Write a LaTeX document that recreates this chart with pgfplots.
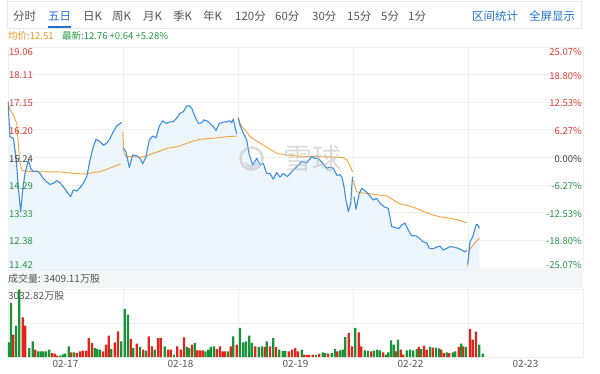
\documentclass[border=0pt]{standalone}
\usepackage{pgfplots}
\pgfplotsset{compat=1.18}
\usepackage{fontspec}
\setmainfont{Noto Sans CJK SC}
\definecolor{pblue}{RGB}{64,142,228}
\definecolor{porange}{RGB}{242,163,60}
\definecolor{pfill}{RGB}{237,245,253}
\definecolor{lred}{RGB}{224,60,50}
\definecolor{lgreen}{RGB}{40,150,70}
\definecolor{ldark}{RGB}{60,60,60}
\definecolor{vred}{RGB}{226,36,26}
\definecolor{vgreen}{RGB}{24,148,56}
\definecolor{gridc}{RGB}{238,239,241}
\definecolor{tgray}{RGB}{85,85,85}
\definecolor{tblue}{RGB}{35,115,205}
\definecolor{bandc}{RGB}{245,246,248}
\definecolor{aorange}{RGB}{240,150,30}
\definecolor{agreen}{RGB}{35,150,65}
\newcommand\TL[3]{\smash{\raisebox{#1}{\textcolor{#2}{#3}}}}
\begin{document}
\begin{tikzpicture}[x=1pt,y=1pt]
\useasboundingbox (0,0) rectangle (600,373);
% toolbar
\draw[gridc!80!gray!60, line width=0.6pt] (7.5,344.5) rectangle (581.5,371.5);
\begin{scope}[every node/.style={anchor=west, inner sep=0pt, font=\fontsize{11.5}{13}\selectfont, text=tgray}]
\node at (13,357) {分时};
\node[text=tblue] at (48,357) {五日};
\node at (83,357) {日K};
\node at (112,357) {周K};
\node at (143,357) {月K};
\node at (173,357) {季K};
\node at (203,357) {年K};
\node at (235,357) {120分};
\node at (275,357) {60分};
\node at (312,357) {30分};
\node at (347,357) {15分};
\node at (381,357) {5分};
\node at (408,357) {1分};
\node[text=tblue] at (472,357) {区间统计};
\node[text=tblue] at (529,357) {全屏显示};
\end{scope}
\draw[tblue, line width=1.6pt] (48,346) -- (71,346);
\node[anchor=west, inner sep=0pt, font=\fontsize{9.5}{11}\selectfont, text=aorange] at (8,337) {均价:12.51};
\node[anchor=west, inner sep=0pt, font=\fontsize{9.5}{11}\selectfont, text=agreen] at (62,337) {最新:12.76 +0.64 +5.28\%};
% volume header band
\fill[bandc] (8,85) rectangle (583,103);
\node[anchor=west, inner sep=0pt, font=\fontsize{10}{12}\selectfont, text=tgray] at (8,94) {成交量: 3409.11万股};
\node[anchor=west, inner sep=0pt, font=\fontsize{10}{12}\selectfont, text=tgray] at (8,77) {3032.82万股};

% price axis
\begin{axis}[
  at={(8pt,103pt)}, anchor=south west, scale only axis, width=575pt, height=223pt,
  xmin=8, xmax=583, ymin=11.351, ymax=19.06,
  axis line style={gridc},
  xtick={123,238,353,468}, xticklabels={}, xmajorgrids,
  ytick={11.42,12.38,13.33,14.29,15.24,16.20,17.15,18.11,19.06}, yticklabels={},
  ymajorgrids, grid style={gridc, line width=0.6pt},
  major tick length=0pt,
]
\addplot[fill=pfill, draw=none] coordinates {
(8,17.17) (10,15.96) (13.3,15.90) (16,15.27) (18.3,14.23) (20.7,13.37) (22.7,14.12) (25,14.69) (28.3,15.15) (30.7,14.87) (33.3,14.75) (36.7,14.78) (40,14.69) (43.3,14.52) (46.7,14.40) (50,14.31) (53.3,14.35) (56.7,14.44) (60,14.37) (63.3,14.23) (66.7,14.06) (70.7,13.89) (73.3,14.12) (76.7,14.08) (80,14.20) (83.3,14.35) (86.7,14.58) (90,15.15) (93.3,15.61) (96,15.87) (100,15.79) (103.3,15.67) (106.7,15.73) (110,15.90) (113.3,16.13) (116.7,16.33) (121.7,16.46)
(123.3,15.56) (126,15.44) (129.3,14.90) (132.7,15.33) (136.7,15.30) (140,15.21) (142.7,15.02) (146,15.27) (149.3,15.85) (152.7,15.98) (156,15.92) (159.3,16.33) (162.7,16.51) (166,16.42) (170,16.47) (173.3,16.48) (176.7,16.60) (180,16.77) (183.3,16.82) (186.7,17.02) (189.3,17.03) (191.7,16.94) (195,16.65) (198.3,16.42) (201.7,16.44) (204,16.54) (206.7,16.51) (210,16.42) (213.3,16.31) (216,16.17) (219.3,16.42) (223.3,16.46) (226.7,16.48) (230,16.51) (231.7,16.44) (233.3,16.57) (236.7,16.05)
(238.3,16.60) (240,16.36) (243.3,16.08) (246.7,15.85) (249.3,15.33) (252.7,14.98) (256.7,15.21) (260,14.98) (263.3,15.04) (266.7,14.69) (270,14.69) (273.3,14.49) (276.7,14.72) (280,14.56) (283.3,14.69) (287.3,14.58) (291.7,14.75) (296.7,14.92) (301.7,15.10) (306.7,15.06) (311.7,15.27) (315,15.21) (318.3,15.21) (323.3,15.02) (326.7,14.87) (330,14.90) (333.3,14.87) (337,14.62) (340,14.65) (342,14.55) (344,14.23) (346,13.77) (348.3,13.37) (350.7,13.66) (352.5,14.58)
(354,13.89) (356,13.45) (359.3,14.00) (361.7,14.18) (366,14.06) (369.3,13.94) (373.3,13.77) (376.7,13.83) (380,13.66) (384,13.54) (388.3,13.48) (391.7,12.85) (395.7,12.81) (399,12.79) (401.7,12.91) (405,12.97) (408.3,12.73) (411.7,12.54) (416,12.53) (419.3,12.45) (422.7,12.33) (426.7,12.29) (429.3,12.10) (433.3,12.09) (436.7,12.14) (440,12.18) (443.3,12.04) (446.7,12.10) (450,12.16) (454,12.14) (458.3,12.10) (461.7,12.04) (465,11.98) (466.7,12.04)
(467.8,11.56) (470,12.33) (472.7,12.50) (476,12.91) (477.3,12.93) (479.5,12.79)
} \closedcycle;
% average line
\addplot[porange, line width=0.9pt, line join=round] coordinates {(8,17.17) (10,16.88) (13.3,16.71) (16.7,16.42) (18.3,15.73) (20,15.04) (21.7,14.81) (25,14.77) (36.7,14.75) (60,14.74) (73.3,14.69) (86.7,14.67) (93.3,14.72) (100,14.75) (106.7,14.83) (113.3,14.92) (120.7,15.02)};
\addplot[porange, line width=0.9pt, line join=round] coordinates {(122.7,16.13) (124,15.39) (126,15.27) (133.3,15.27) (140,15.25) (146.7,15.29) (153.3,15.39) (160,15.46) (166.7,15.56) (173.3,15.59) (180,15.64) (186.7,15.73) (193.3,15.81) (200,15.87) (206.7,15.89) (216.7,15.92) (226.7,15.96) (236.7,15.98)};
\addplot[porange, line width=0.9pt, line join=round] coordinates {(238.3,16.63) (240,16.42) (243.3,16.25) (246.7,16.13) (250,15.96) (256.7,15.81) (263.3,15.67) (270,15.52) (276.7,15.39) (283.3,15.34) (296.7,15.29) (313.3,15.27) (330,15.26) (343,15.24) (347,15.15) (350,14.96) (352.5,14.75)};
\addplot[porange, line width=0.9pt, line join=round] coordinates {(353.5,14.46) (355,14.23) (356.7,14.06) (360,14.02) (366.7,14.00) (380,13.94) (386.7,13.91) (393.3,13.77) (400,13.63) (406.7,13.59) (413.3,13.52) (420,13.43) (426.7,13.33) (433.3,13.25) (440,13.19) (450,13.14) (460,13.06) (466.7,12.99)};
\addplot[porange, line width=0.9pt, line join=round] coordinates {(467.5,11.49) (469.3,12.04) (473.3,12.22) (476.7,12.36) (479.5,12.45)};
% price line
\addplot[pblue, line width=1.1pt, line join=round] coordinates {(8,17.17) (10,15.96) (13.3,15.90) (16,15.27) (18.3,14.23) (20.7,13.37) (22.7,14.12) (25,14.69) (28.3,15.15) (30.7,14.87) (33.3,14.75) (36.7,14.78) (40,14.69) (43.3,14.52) (46.7,14.40) (50,14.31) (53.3,14.35) (56.7,14.44) (60,14.37) (63.3,14.23) (66.7,14.06) (70.7,13.89) (73.3,14.12) (76.7,14.08) (80,14.20) (83.3,14.35) (86.7,14.58) (90,15.15) (93.3,15.61) (96,15.87) (100,15.79) (103.3,15.67) (106.7,15.73) (110,15.90) (113.3,16.13) (116.7,16.33) (121.7,16.46)};
\addplot[pblue, line width=1.1pt, line join=round] coordinates {(123.3,15.56) (126,15.44) (129.3,14.90) (132.7,15.33) (136.7,15.30) (140,15.21) (142.7,15.02) (146,15.27) (149.3,15.85) (152.7,15.98) (156,15.92) (159.3,16.33) (162.7,16.51) (166,16.42) (170,16.47) (173.3,16.48) (176.7,16.60) (180,16.77) (183.3,16.82) (186.7,17.02) (189.3,17.03) (191.7,16.94) (195,16.65) (198.3,16.42) (201.7,16.44) (204,16.54) (206.7,16.51) (210,16.42) (213.3,16.31) (216,16.17) (219.3,16.42) (223.3,16.46) (226.7,16.48) (230,16.51) (231.7,16.44) (233.3,16.57) (236.7,16.05)};
\addplot[pblue, line width=1.1pt, line join=round] coordinates {(238.3,16.60) (240,16.36) (243.3,16.08) (246.7,15.85) (249.3,15.33) (252.7,14.98) (256.7,15.21) (260,14.98) (263.3,15.04) (266.7,14.69) (270,14.69) (273.3,14.49) (276.7,14.72) (280,14.56) (283.3,14.69) (287.3,14.58) (291.7,14.75) (296.7,14.92) (301.7,15.10) (306.7,15.06) (311.7,15.27) (315,15.21) (318.3,15.21) (323.3,15.02) (326.7,14.87) (330,14.90) (333.3,14.87) (337,14.62) (340,14.65) (342,14.55) (344,14.23) (346,13.77) (348.3,13.37) (350.7,13.66) (352.5,14.58)};
\addplot[pblue, line width=1.1pt, line join=round] coordinates {(354,13.89) (356,13.45) (359.3,14.00) (361.7,14.18) (366,14.06) (369.3,13.94) (373.3,13.77) (376.7,13.83) (380,13.66) (384,13.54) (388.3,13.48) (391.7,12.85) (395.7,12.81) (399,12.79) (401.7,12.91) (405,12.97) (408.3,12.73) (411.7,12.54) (416,12.53) (419.3,12.45) (422.7,12.33) (426.7,12.29) (429.3,12.10) (433.3,12.09) (436.7,12.14) (440,12.18) (443.3,12.04) (446.7,12.10) (450,12.16) (454,12.14) (458.3,12.10) (461.7,12.04) (465,11.98) (466.7,12.04)};
\addplot[pblue, line width=1.1pt, line join=round] coordinates {(467.8,11.56) (470,12.33) (472.7,12.50) (476,12.91) (477.3,12.93) (479.5,12.79)};
\end{axis}

% left price labels (overlay, drawn above the fill)
\begin{axis}[
  at={(8pt,103pt)}, anchor=south west, scale only axis, width=575pt, height=223pt,
  xmin=8, xmax=583, ymin=11.351, ymax=19.06,
  axis line style={draw=none}, xtick=\empty,
  ytick={11.42,12.38,13.33,14.29,15.24,16.20,17.15,18.11,19.06},
  yticklabels={\TL{-0.5pt}{lgreen}{11.42},\TL{-4.5pt}{lgreen}{12.38},\TL{-4.5pt}{lgreen}{13.33},\TL{-4.5pt}{lgreen}{14.29},\TL{-4.5pt}{ldark}{15.24},\TL{-4.5pt}{lred}{16.20},\TL{-4.5pt}{lred}{17.15},\TL{-4.5pt}{lred}{18.11},\TL{-8.5pt}{lred}{19.06}},
  major tick length=0pt,
  yticklabel style={anchor=west, inner sep=0pt, xshift=1pt, font=\fontsize{9.5}{11}\selectfont},
]
\end{axis}

% percent axis (right labels)
\begin{axis}[
  at={(8pt,103pt)}, anchor=south west, scale only axis, width=575pt, height=223pt,
  xmin=8, xmax=583, ymin=-25.52, ymax=25.07,
  axis line style={draw=none}, xtick=\empty,
  ytick={-25.07,-18.80,-12.53,-6.27,0,6.27,12.53,18.80,25.07},
  yticklabels={\TL{-0.5pt}{lgreen}{-25.07\%},\TL{-4.5pt}{lgreen}{-18.80\%},\TL{-4.5pt}{lgreen}{-12.53\%},\TL{-4.5pt}{lgreen}{-6.27\%},\TL{-4.5pt}{ldark}{0.00\%},\TL{-4.5pt}{lred}{6.27\%},\TL{-4.5pt}{lred}{12.53\%},\TL{-4.5pt}{lred}{18.80\%},\TL{-8.5pt}{lred}{25.07\%}},
  yticklabel pos=right, major tick length=0pt,
  yticklabel style={anchor=east, inner sep=0pt, xshift=-1pt, font=\fontsize{9.5}{11}\selectfont},
]
\end{axis}

% volume axis
\begin{axis}[
  at={(8pt,16pt)}, anchor=south west, scale only axis, width=575pt, height=68pt,
  xmin=8, xmax=583, ymin=0, ymax=3078,
  axis line style={gridc},
  xtick={65.5,180.5,295.5,410.5,525.5}, xticklabels={02-17,02-18,02-19,02-22,02-23},
  extra x ticks={123,238,353,468}, extra x tick labels={}, extra x tick style={grid=major},
  ytick={1539,3078}, yticklabels={}, ymajorgrids,
  grid style={gridc, line width=0.6pt}, major tick length=0pt,
  xticklabel style={text=tgray, font=\fontsize{10}{12}\selectfont},
]
\addplot[ybar, bar width=2.2, bar shift=0pt, fill=vred, draw=none] coordinates {
(13.3,1011) (22.7,1796) (25.3,1418) (35.3,332) (52,181) (54.7,151) (57.3,60) (71.3,211) (76.7,181) (80,257) (82.7,287) (86,287) (88.7,860) (92,634) (103,257) (106,558) (108.7,966) (114.7,664) (118,1162)
(130.7,815) (136.7,604) (143.3,332) (148.7,936) (152,483) (158,860) (160.7,860) (168,332) (170.7,332) (177.3,483) (180.7,332) (184,890) (192,558) (197.3,302) (200,302) (202.7,302) (216.7,362) (220,483) (222.7,257) (225.3,257) (230.7,483) (236.7,558)
(255.3,483) (264.7,453) (270,483) (276,453) (288.7,257) (292,332) (295.3,407) (298,257) (304,106) (306.7,91) (309.3,91) (312.7,106) (319.3,136) (328.3,151) (337.3,257) (348.7,1086) (352,483)
(358.7,1117) (361.3,483) (371.3,257) (383.3,211) (396,257) (400.7,332) (403.3,106) (418.7,453) (424,513) (426.7,332) (432.7,423) (441.3,332) (444,181) (449.3,181) (458.7,453) (463.3,483)
(470,1268) (472.7,785) (476,1147)
};
\addplot[ybar, bar width=2.2, bar shift=0pt, fill=vgreen, draw=none] coordinates {
(8.5,664) (11,2445) (16,1418) (19.3,3050) (29.3,407) (32.7,709) (38,257) (40.7,257) (43.3,257) (46,257) (49.3,332) (60,60) (62.7,121) (65.3,151) (68.7,483) (74,211) (94.7,407) (97.3,362) (100,332) (111.3,362) (121.3,709)
(124.7,2173) (128,1916) (133.3,407) (140,453) (146,287) (154.7,332) (164.7,483) (174,106) (186.7,453) (189.3,407) (194.7,634) (205.5,257) (208.2,332) (210.7,453) (214,483) (228.3,257) (233.3,936)
(240,1313) (243.3,664) (246,709) (249.3,966) (252,634) (258.7,453) (262,483) (266.7,709) (273.3,860) (279.3,332) (282.7,272) (285.3,272) (301.7,332) (316,91) (322.7,211) (325.3,181) (331.7,181) (335,362) (340,302) (342.7,332) (345.3,905)
(355.3,1313) (364.7,302) (368,272) (374,287) (377.3,332) (380,302) (386,106) (388.3,211) (391,755) (393.8,558) (398,785) (406.7,302) (410,332) (413.3,302) (416.7,362) (421.3,362) (430,453) (436,423) (439.3,392) (446.7,211) (452.7,211) (455.3,257) (461.3,604) (466,453)
(479.3,558) (482.7,151)
};
\end{axis}
% watermark
\begin{scope}[opacity=0.55]
\draw[black!25, line width=2.6pt] (251.5,214.5) circle (11);
\draw[black!25, line width=2.3pt] (245.5,210.5) arc (200:330:6.5);
\node[text=black!25, font=\fontsize{29}{32}\selectfont, inner sep=0pt] at (312.5,214.5) {雪球};
\end{scope}
\end{tikzpicture}
\end{document}
